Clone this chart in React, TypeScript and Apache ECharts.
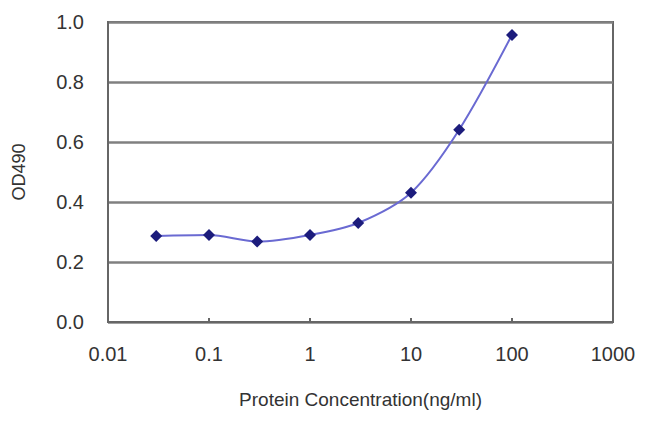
import React, { useEffect, useRef } from "react";
import * as echarts from "echarts";

const concentrations = [0.03, 0.1, 0.3, 1, 3, 10, 30, 100];
const odValues = [0.287, 0.29, 0.268, 0.29, 0.33, 0.431, 0.641, 0.957];
const xTicks = [0.01, 0.1, 1, 10, 100, 1000];
const xName = "Protein Concentration(ng/ml)";
const yName = "OD490";

export default function App() {
  const ref = useRef<HTMLDivElement>(null);
  useEffect(() => {
    if (!ref.current) return;
    const chart = echarts.init(ref.current, undefined, { renderer: "svg" });
    const font = "Liberation Sans, Arial, sans-serif";
    chart.setOption({
      animation: false,
      backgroundColor: "#ffffff",
      grid: {
        left: 108,
        top: 22,
        right: 37,
        bottom: 104,
        show: true,
        borderColor: "#666666",
        borderWidth: 2,
      },
      xAxis: {
        type: "log",
        logBase: 10,
        min: 0.01,
        max: 1000,
        name: xName,
        nameLocation: "middle",
        nameGap: 68,
        nameTextStyle: { fontFamily: font, fontSize: 19, color: "#333" },
        axisLine: { show: true, lineStyle: { color: "#666666", width: 2 } },
        axisTick: { show: true, inside: true, length: 4, lineStyle: { color: "#666666", width: 2 } },
        minorTick: { show: false },
        splitLine: { show: false },
        axisLabel: {
          fontFamily: font,
          fontSize: 20,
          color: "#333",
          margin: 22,
          formatter: (v: number) => {
            const m = xTicks.find((t) => Math.abs(t - v) / t < 1e-6);
            return m !== undefined ? String(m) : "";
          },
        },
      },
      yAxis: {
        type: "value",
        min: 0,
        max: 1,
        interval: 0.2,
        name: yName,
        nameLocation: "middle",
        nameGap: 80,
        nameTextStyle: { fontFamily: font, fontSize: 18, color: "#333" },
        axisLine: { show: true, lineStyle: { color: "#666666", width: 2 } },
        axisTick: { show: false },
        splitLine: { show: true, lineStyle: { color: "#808080", width: 2.5 } },
        axisLabel: {
          fontFamily: font,
          fontSize: 20,
          color: "#333",
          margin: 24,
          formatter: (v: number) => v.toFixed(1),
        },
      },
      series: [
        {
          type: "line",
          data: concentrations.map((c, i) => [c, odValues[i]]),
          smooth: 0.3,
          symbol: "diamond",
          symbolSize: 12,
          lineStyle: { color: "#6a6ad2", width: 2 },
          itemStyle: { color: "#1c1c7c" },
        },
      ],
    });
    return () => chart.dispose();
  }, []);
  return <div ref={ref} style={{ width: 650, height: 426, position: "absolute", left: 0, top: 0 }} />;
}
